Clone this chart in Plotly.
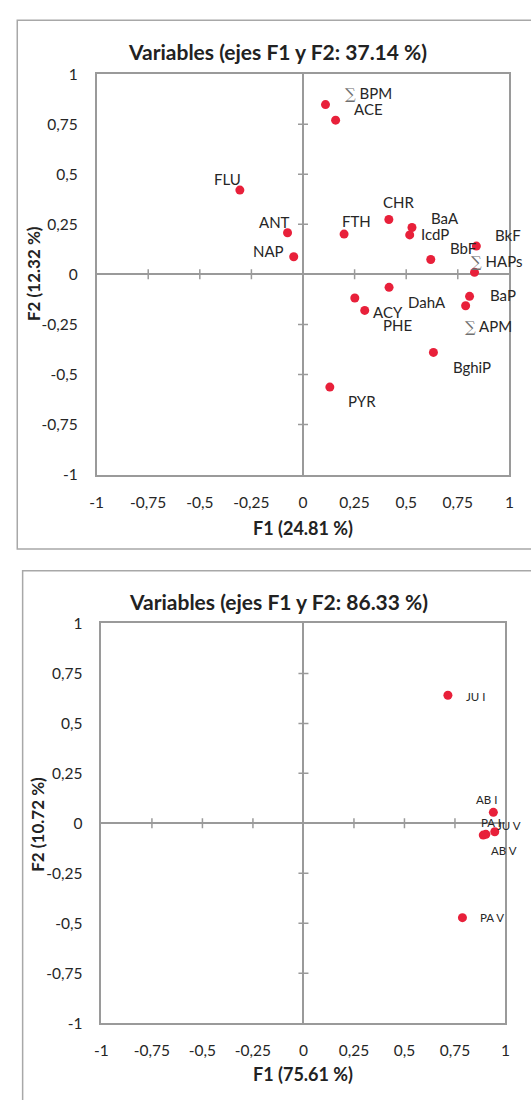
import plotly.graph_objects as go

# ---- Data: PCA variable loadings (F1, F2) ----
top_labels = ["Σ BPM", "ACE", "FLU", "ANT", "NAP", "FTH", "CHR", "BaA", "IcdP",
              "BbF", "BkF", "Σ HAPs", "DahA", "ACY", "PHE", "BaP", "Σ APM",
              "BghiP", "PYR"]
top_f1 = [0.109, 0.158, -0.306, -0.075, -0.045, 0.199, 0.416, 0.528, 0.517,
          0.619, 0.840, 0.831, 0.417, 0.251, 0.299, 0.807, 0.788, 0.632, 0.130]
top_f2 = [0.848, 0.770, 0.421, 0.208, 0.088, 0.201, 0.274, 0.234, 0.197,
          0.074, 0.141, 0.010, -0.065, -0.118, -0.180, -0.110, -0.157,
          -0.390, -0.563]

bottom_labels = ["JU I", "AB I", "JU V", "PA I", "AB V", "PA V"]
bottom_f1 = [0.715, 0.940, 0.947, 0.890, 0.903, 0.787]
bottom_f2 = [0.641, 0.055, -0.042, -0.059, -0.055, -0.472]

top_title = "Variables (ejes F1 y F2: 37.14 %)"
top_xtitle = "F1 (24.81 %)"
top_ytitle = "F2 (12.32 %)"
bottom_title = "Variables (ejes F1 y F2: 86.33 %)"
bottom_xtitle = "F1 (75.61 %)"
bottom_ytitle = "F2 (10.72 %)"

tick_vals = [-1, -0.75, -0.5, -0.25, 0, 0.25, 0.5, 0.75, 1]
tick_text = ["-1", "-0,75", "-0,5", "-0,25", "0", "0,25", "0,5", "0,75", "1"]

# ---- Label placement (pixel offsets from each point: dx right, dy down) ----
top_offsets = {
    "Σ BPM": (43, -11), "ACE": (33, -11), "FLU": (-12, -11), "ANT": (-13, -11),
    "NAP": (-25, -6), "FTH": (12, -13), "CHR": (10, -17), "BaA": (33, -10),
    "IcdP": (25, -1), "BbF": (32, -12), "BkF": (32, -11), "Σ HAPs": (22, -11),
    "DahA": (38, 15), "ACY": (33, 14), "PHE": (33, 15), "BaP": (33, -1),
    "Σ APM": (23, 21), "BghiP": (39, 15), "PYR": (32, 14),
}
bottom_offsets = {
    "JU I": (28, 1), "AB I": (-7, -13), "JU V": (14, -6), "PA I": (8, -13),
    "AB V": (18, 16), "PA V": (30, 0),
}

# ---- Style ----
W, H = 531, 1100
FONT = "Lato"
TXT = "#262626"
AXIS_GRAY = "#9a9a9a"
FRAME_GRAY = "#a8a8a8"
RED = "#e8203a"


def px_x(p):
    return p / W


def px_y(p):
    return 1 - p / H


fig = go.Figure()

fig.add_trace(go.Scatter(
    x=top_f1, y=top_f2, mode="markers", xaxis="x", yaxis="y",
    marker=dict(color=RED, size=9, line=dict(width=0)),
    hoverinfo="skip", showlegend=False, cliponaxis=False))
fig.add_trace(go.Scatter(
    x=bottom_f1, y=bottom_f2, mode="markers", xaxis="x2", yaxis="y2",
    marker=dict(color=RED, size=9, line=dict(width=0)),
    hoverinfo="skip", showlegend=False, cliponaxis=False))


def fmt_label(name):
    if name.startswith("Σ"):
        return "<span style='color:#707070;font-family:DejaVu Serif'>∑</span>" + name[1:]
    return name


annotations = []
for name, xv, yv in zip(top_labels, top_f1, top_f2):
    dx, dy = top_offsets[name]
    annotations.append(dict(
        x=xv, y=yv, xref="x", yref="y", text=fmt_label(name), showarrow=False,
        xshift=dx, yshift=-dy, font=dict(family=FONT, size=15, color=TXT)))
for name, xv, yv in zip(bottom_labels, bottom_f1, bottom_f2):
    dx, dy = bottom_offsets[name]
    annotations.append(dict(
        x=xv, y=yv, xref="x2", yref="y2", text=name, showarrow=False,
        xshift=dx, yshift=-dy, font=dict(family=FONT, size=11.5, color=TXT)))

# chart titles and axis titles
for txt, cx, cy in [(top_title, 277, 42), (bottom_title, 278, 601)]:
    annotations.append(dict(
        x=px_x(cx), y=px_y(cy), xref="paper", yref="paper", text="<b>%s</b>" % txt,
        showarrow=False, xanchor="center", yanchor="middle",
        font=dict(family=FONT, size=21, color="#222222")))
for txt, cx, cy in [(top_xtitle, 303, 527), (bottom_xtitle, 303, 1082)]:
    annotations.append(dict(
        x=px_x(cx), y=px_y(cy), xref="paper", yref="paper", text="<b>%s</b>" % txt,
        showarrow=False, xanchor="center", yanchor="middle",
        font=dict(family=FONT, size=18, color="#222222")))
for txt, cx, cy in [(top_ytitle, 27, 268), (bottom_ytitle, 31, 828)]:
    annotations.append(dict(
        x=px_x(cx), y=px_y(cy), xref="paper", yref="paper", text="<b>%s</b>" % txt,
        showarrow=False, xanchor="center", yanchor="middle", textangle=-90,
        font=dict(family=FONT, size=17, color="#222222")))

# outer chart frames and cross-shaped tick marks on the zero axes
shapes = [
    dict(type="rect", xref="paper", yref="paper", x0=px_x(10.5), x1=px_x(545),
         y0=px_y(548), y1=px_y(10.5), line=dict(color=FRAME_GRAY, width=1.5)),
    dict(type="rect", xref="paper", yref="paper", x0=px_x(16), x1=px_x(545),
         y0=px_y(1120), y1=px_y(570), line=dict(color=FRAME_GRAY, width=1.5)),
]
inner_ticks = [t for t in tick_vals if t not in (-1, 0, 1)]
for xa, ya in [("x", "y"), ("x2", "y2")]:
    for t in inner_ticks:
        shapes.append(dict(type="line", xref=xa, yref=ya, x0=t, x1=t,
                           ysizemode="pixel", yanchor=0, y0=-5, y1=5,
                           line=dict(color=AXIS_GRAY, width=1.5)))
        shapes.append(dict(type="line", xref=xa, yref=ya, y0=t, y1=t,
                           xsizemode="pixel", xanchor=0, x0=-5, x1=5,
                           line=dict(color=AXIS_GRAY, width=1.5)))

axis_common = dict(
    range=[-1, 1], tickvals=tick_vals, ticktext=tick_text,
    showgrid=False, zeroline=True, zerolinecolor=AXIS_GRAY, zerolinewidth=1.5,
    showline=True, mirror=True, linecolor=AXIS_GRAY, linewidth=1.5,
    ticks="outside", tickcolor="rgba(0,0,0,0)",
    tickfont=dict(family=FONT, size=15.5, color=TXT), fixedrange=True,
)

fig.update_layout(
    width=W, height=H, margin=dict(l=0, r=0, t=0, b=0),
    paper_bgcolor="white", plot_bgcolor="white", showlegend=False,
    xaxis=dict(axis_common, domain=[px_x(91.7), px_x(514)], anchor="y", ticklen=13),
    yaxis=dict(axis_common, domain=[px_y(472.3), px_y(65.2)], anchor="x", ticklen=14),
    xaxis2=dict(axis_common, domain=[px_x(96.6), px_x(510)], anchor="y2", ticklen=13),
    yaxis2=dict(axis_common, domain=[px_y(1030), px_y(623.7)], anchor="x2", ticklen=14),
    annotations=annotations, shapes=shapes,
)

fig.write_html("out.html")
